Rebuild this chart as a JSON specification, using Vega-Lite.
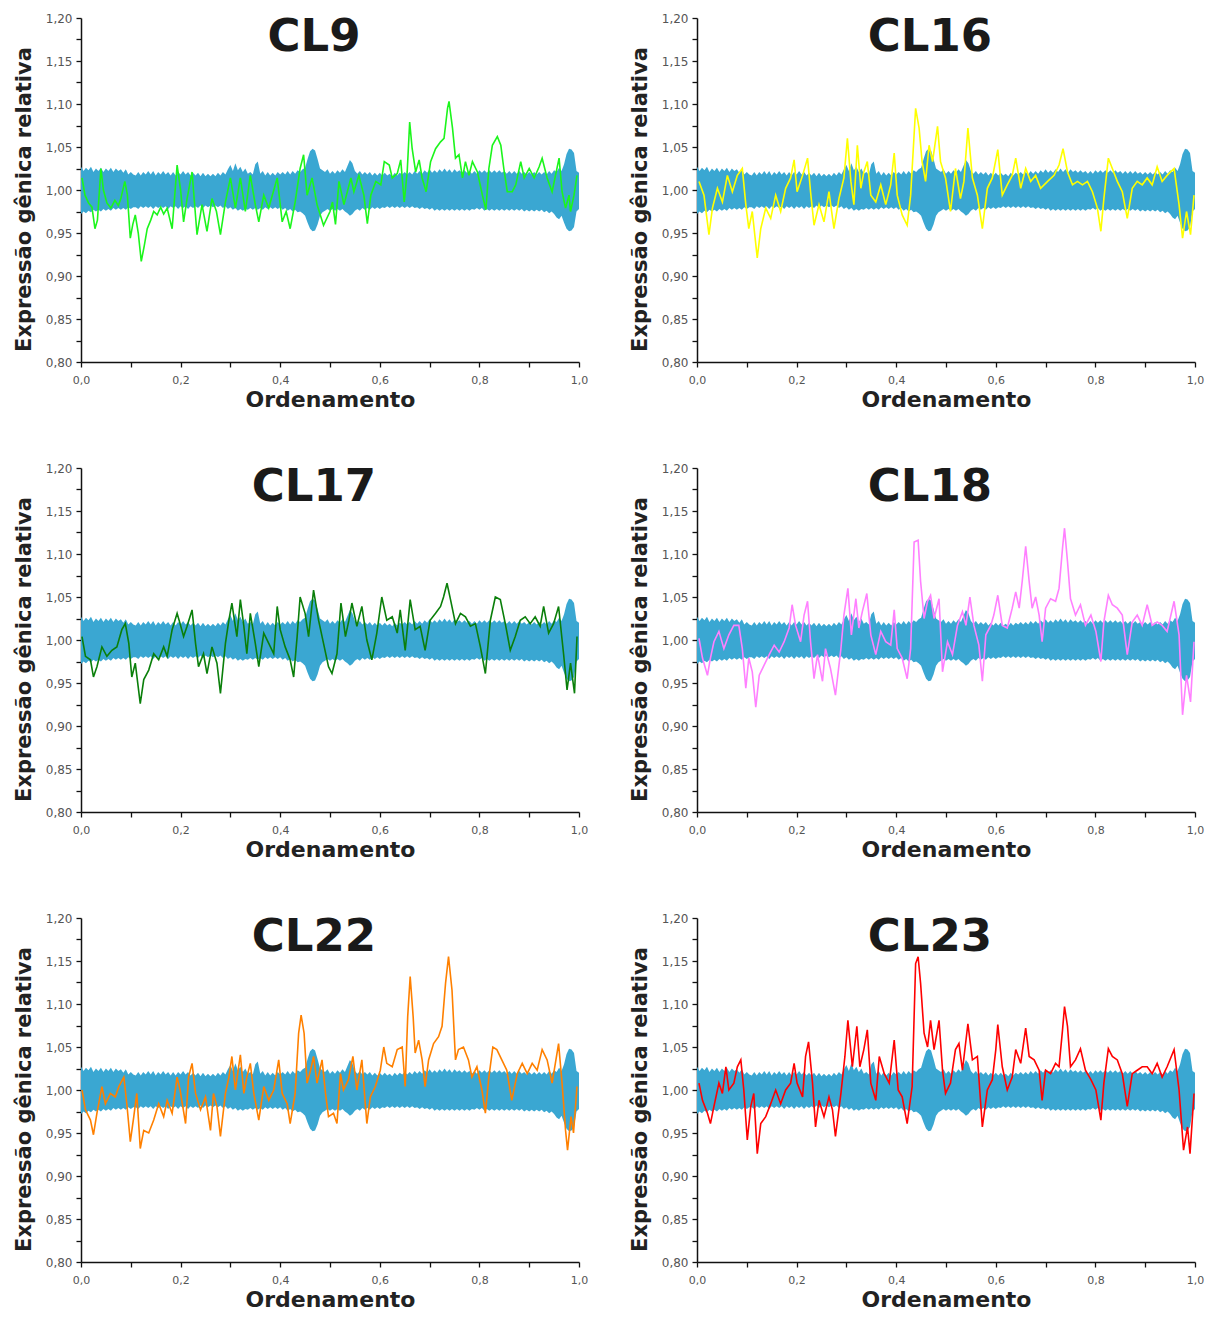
{
"$schema":"https://vega.github.io/schema/vega-lite/v6.json",
"padding":{"left":13,"top":12,"right":5,"bottom":3},
"background":"white",
"columns":2,
"bounds":"flush",
"spacing":{"row":106,"column":118},
"datasets":{
"band":[
{"t":0.000,"v":0.972,"v2":1.027},{"t":0.005,"v":0.975,"v2":1.022},{"t":0.010,"v":0.973,"v2":1.026},{"t":0.015,"v":0.976,"v2":1.023},{"t":0.020,"v":0.974,"v2":1.027},{"t":0.025,"v":0.977,"v2":1.021},{"t":0.030,"v":0.975,"v2":1.025},{"t":0.035,"v":0.977,"v2":1.022},{"t":0.040,"v":0.975,"v2":1.026},{"t":0.045,"v":0.978,"v2":1.021},{"t":0.050,"v":0.976,"v2":1.025},{"t":0.055,"v":0.978,"v2":1.022},{"t":0.060,"v":0.976,"v2":1.026},{"t":0.065,"v":0.979,"v2":1.021},{"t":0.070,"v":0.977,"v2":1.025},{"t":0.075,"v":0.979,"v2":1.022},{"t":0.080,"v":0.977,"v2":1.024},{"t":0.085,"v":0.979,"v2":1.020},{"t":0.090,"v":0.977,"v2":1.024},{"t":0.095,"v":0.980,"v2":1.018},{"t":0.100,"v":0.978,"v2":1.021},{"t":0.105,"v":0.980,"v2":1.018},{"t":0.110,"v":0.980,"v2":1.017},{"t":0.115,"v":0.978,"v2":1.021},{"t":0.120,"v":0.981,"v2":1.017},{"t":0.125,"v":0.979,"v2":1.021},{"t":0.130,"v":0.981,"v2":1.018},{"t":0.135,"v":0.979,"v2":1.022},{"t":0.140,"v":0.981,"v2":1.018},{"t":0.145,"v":0.978,"v2":1.022},{"t":0.150,"v":0.981,"v2":1.017},{"t":0.155,"v":0.979,"v2":1.021},{"t":0.160,"v":0.981,"v2":1.018},{"t":0.165,"v":0.979,"v2":1.022},{"t":0.170,"v":0.981,"v2":1.018},{"t":0.175,"v":0.978,"v2":1.021},{"t":0.180,"v":0.981,"v2":1.017},{"t":0.185,"v":0.979,"v2":1.021},{"t":0.190,"v":0.981,"v2":1.017},{"t":0.195,"v":0.978,"v2":1.021},{"t":0.200,"v":0.981,"v2":1.018},{"t":0.205,"v":0.979,"v2":1.022},{"t":0.210,"v":0.981,"v2":1.018},{"t":0.215,"v":0.978,"v2":1.021},{"t":0.220,"v":0.981,"v2":1.017},{"t":0.225,"v":0.979,"v2":1.020},{"t":0.230,"v":0.981,"v2":1.017},{"t":0.235,"v":0.979,"v2":1.020},{"t":0.240,"v":0.982,"v2":1.016},{"t":0.245,"v":0.979,"v2":1.020},{"t":0.250,"v":0.982,"v2":1.016},{"t":0.255,"v":0.980,"v2":1.019},{"t":0.260,"v":0.982,"v2":1.016},{"t":0.265,"v":0.980,"v2":1.019},{"t":0.270,"v":0.982,"v2":1.016},{"t":0.275,"v":0.980,"v2":1.020},{"t":0.280,"v":0.982,"v2":1.017},{"t":0.285,"v":0.979,"v2":1.021},{"t":0.290,"v":0.981,"v2":1.018},{"t":0.295,"v":0.978,"v2":1.024},{"t":0.300,"v":0.980,"v2":1.029},{"t":0.305,"v":0.977,"v2":1.022},{"t":0.310,"v":0.979,"v2":1.031},{"t":0.315,"v":0.976,"v2":1.023},{"t":0.320,"v":0.978,"v2":1.027},{"t":0.325,"v":0.976,"v2":1.021},{"t":0.330,"v":0.978,"v2":1.025},{"t":0.335,"v":0.977,"v2":1.019},{"t":0.340,"v":0.979,"v2":1.021},{"t":0.345,"v":0.977,"v2":1.018},{"t":0.350,"v":0.979,"v2":1.030},{"t":0.355,"v":0.977,"v2":1.033},{"t":0.360,"v":0.979,"v2":1.019},{"t":0.365,"v":0.977,"v2":1.022},{"t":0.370,"v":0.980,"v2":1.017},{"t":0.375,"v":0.978,"v2":1.021},{"t":0.380,"v":0.980,"v2":1.017},{"t":0.385,"v":0.978,"v2":1.020},{"t":0.390,"v":0.980,"v2":1.017},{"t":0.395,"v":0.978,"v2":1.021},{"t":0.400,"v":0.980,"v2":1.018},{"t":0.405,"v":0.977,"v2":1.021},{"t":0.410,"v":0.979,"v2":1.018},{"t":0.415,"v":0.976,"v2":1.022},{"t":0.420,"v":0.978,"v2":1.018},{"t":0.425,"v":0.975,"v2":1.022},{"t":0.430,"v":0.977,"v2":1.019},{"t":0.435,"v":0.974,"v2":1.023},{"t":0.440,"v":0.975,"v2":1.021},{"t":0.445,"v":0.973,"v2":1.024},{"t":0.450,"v":0.970,"v2":1.026},{"t":0.455,"v":0.962,"v2":1.036},{"t":0.460,"v":0.955,"v2":1.045},{"t":0.465,"v":0.952,"v2":1.048},{"t":0.470,"v":0.953,"v2":1.046},{"t":0.475,"v":0.960,"v2":1.036},{"t":0.480,"v":0.970,"v2":1.025},{"t":0.485,"v":0.974,"v2":1.023},{"t":0.490,"v":0.976,"v2":1.021},{"t":0.495,"v":0.978,"v2":1.024},{"t":0.500,"v":0.976,"v2":1.019},{"t":0.505,"v":0.978,"v2":1.022},{"t":0.510,"v":0.976,"v2":1.019},{"t":0.515,"v":0.978,"v2":1.023},{"t":0.520,"v":0.976,"v2":1.020},{"t":0.525,"v":0.978,"v2":1.024},{"t":0.530,"v":0.975,"v2":1.021},{"t":0.535,"v":0.973,"v2":1.028},{"t":0.540,"v":0.970,"v2":1.035},{"t":0.545,"v":0.972,"v2":1.031},{"t":0.550,"v":0.976,"v2":1.022},{"t":0.555,"v":0.978,"v2":1.019},{"t":0.560,"v":0.976,"v2":1.022},{"t":0.565,"v":0.979,"v2":1.018},{"t":0.570,"v":0.977,"v2":1.021},{"t":0.575,"v":0.979,"v2":1.018},{"t":0.580,"v":0.977,"v2":1.021},{"t":0.585,"v":0.980,"v2":1.017},{"t":0.590,"v":0.978,"v2":1.020},{"t":0.595,"v":0.980,"v2":1.017},{"t":0.600,"v":0.978,"v2":1.020},{"t":0.605,"v":0.980,"v2":1.017},{"t":0.610,"v":0.979,"v2":1.020},{"t":0.615,"v":0.981,"v2":1.017},{"t":0.620,"v":0.979,"v2":1.019},{"t":0.625,"v":0.981,"v2":1.016},{"t":0.630,"v":0.979,"v2":1.020},{"t":0.635,"v":0.981,"v2":1.017},{"t":0.640,"v":0.979,"v2":1.020},{"t":0.645,"v":0.981,"v2":1.018},{"t":0.650,"v":0.979,"v2":1.021},{"t":0.655,"v":0.981,"v2":1.018},{"t":0.660,"v":0.979,"v2":1.021},{"t":0.665,"v":0.981,"v2":1.018},{"t":0.670,"v":0.979,"v2":1.022},{"t":0.675,"v":0.980,"v2":1.019},{"t":0.680,"v":0.978,"v2":1.022},{"t":0.685,"v":0.980,"v2":1.019},{"t":0.690,"v":0.978,"v2":1.023},{"t":0.695,"v":0.979,"v2":1.020},{"t":0.700,"v":0.977,"v2":1.024},{"t":0.705,"v":0.979,"v2":1.020},{"t":0.710,"v":0.976,"v2":1.023},{"t":0.715,"v":0.978,"v2":1.020},{"t":0.720,"v":0.976,"v2":1.024},{"t":0.725,"v":0.978,"v2":1.021},{"t":0.730,"v":0.976,"v2":1.025},{"t":0.735,"v":0.978,"v2":1.021},{"t":0.740,"v":0.976,"v2":1.024},{"t":0.745,"v":0.978,"v2":1.020},{"t":0.750,"v":0.976,"v2":1.024},{"t":0.755,"v":0.978,"v2":1.021},{"t":0.760,"v":0.976,"v2":1.023},{"t":0.765,"v":0.978,"v2":1.020},{"t":0.770,"v":0.976,"v2":1.023},{"t":0.775,"v":0.978,"v2":1.020},{"t":0.780,"v":0.976,"v2":1.022},{"t":0.785,"v":0.978,"v2":1.019},{"t":0.790,"v":0.977,"v2":1.022},{"t":0.795,"v":0.979,"v2":1.019},{"t":0.800,"v":0.977,"v2":1.023},{"t":0.805,"v":0.979,"v2":1.020},{"t":0.810,"v":0.976,"v2":1.023},{"t":0.815,"v":0.978,"v2":1.020},{"t":0.820,"v":0.976,"v2":1.023},{"t":0.825,"v":0.978,"v2":1.020},{"t":0.830,"v":0.976,"v2":1.023},{"t":0.835,"v":0.978,"v2":1.020},{"t":0.840,"v":0.976,"v2":1.023},{"t":0.845,"v":0.978,"v2":1.020},{"t":0.850,"v":0.976,"v2":1.022},{"t":0.855,"v":0.978,"v2":1.019},{"t":0.860,"v":0.976,"v2":1.022},{"t":0.865,"v":0.978,"v2":1.019},{"t":0.870,"v":0.976,"v2":1.022},{"t":0.875,"v":0.978,"v2":1.019},{"t":0.880,"v":0.976,"v2":1.022},{"t":0.885,"v":0.978,"v2":1.019},{"t":0.890,"v":0.975,"v2":1.021},{"t":0.895,"v":0.977,"v2":1.018},{"t":0.900,"v":0.975,"v2":1.021},{"t":0.905,"v":0.977,"v2":1.018},{"t":0.910,"v":0.975,"v2":1.021},{"t":0.915,"v":0.977,"v2":1.018},{"t":0.920,"v":0.975,"v2":1.021},{"t":0.925,"v":0.977,"v2":1.018},{"t":0.930,"v":0.974,"v2":1.021},{"t":0.935,"v":0.976,"v2":1.018},{"t":0.940,"v":0.973,"v2":1.022},{"t":0.945,"v":0.975,"v2":1.019},{"t":0.950,"v":0.972,"v2":1.023},{"t":0.955,"v":0.968,"v2":1.021},{"t":0.960,"v":0.966,"v2":1.026},{"t":0.965,"v":0.970,"v2":1.022},{"t":0.970,"v":0.962,"v2":1.030},{"t":0.975,"v":0.955,"v2":1.042},{"t":0.980,"v":0.952,"v2":1.048},{"t":0.985,"v":0.953,"v2":1.047},{"t":0.990,"v":0.957,"v2":1.043},{"t":0.995,"v":0.975,"v2":1.022},{"t":1.000,"v":0.978,"v2":1.020}
],
"cl9":[
{"t":0.002,"v":1.014},{"t":0.008,"v":0.994},{"t":0.015,"v":0.985},{"t":0.022,"v":0.980},{"t":0.028,"v":0.955},{"t":0.033,"v":0.965},{"t":0.040,"v":1.025},{"t":0.045,"v":1.000},{"t":0.052,"v":0.985},{"t":0.060,"v":0.979},{"t":0.068,"v":0.988},{"t":0.075,"v":0.982},{"t":0.080,"v":0.990},{"t":0.088,"v":1.010},{"t":0.093,"v":0.995},{"t":0.099,"v":0.944},{"t":0.104,"v":0.960},{"t":0.109,"v":0.971},{"t":0.115,"v":0.950},{"t":0.121,"v":0.917},{"t":0.127,"v":0.935},{"t":0.133,"v":0.955},{"t":0.140,"v":0.965},{"t":0.146,"v":0.975},{"t":0.153,"v":0.971},{"t":0.160,"v":0.980},{"t":0.166,"v":0.972},{"t":0.173,"v":0.979},{"t":0.183,"v":0.955},{"t":0.193,"v":1.029},{"t":0.200,"v":1.000},{"t":0.206,"v":0.963},{"t":0.213,"v":0.990},{"t":0.223,"v":1.021},{"t":0.233,"v":0.948},{"t":0.243,"v":0.983},{"t":0.253,"v":0.952},{"t":0.263,"v":0.990},{"t":0.272,"v":0.975},{"t":0.280,"v":0.948},{"t":0.290,"v":0.986},{"t":0.300,"v":1.014},{"t":0.310,"v":0.979},{"t":0.320,"v":1.014},{"t":0.330,"v":0.975},{"t":0.340,"v":1.017},{"t":0.350,"v":0.983},{"t":0.357,"v":0.963},{"t":0.367,"v":0.994},{"t":0.377,"v":0.979},{"t":0.394,"v":1.014},{"t":0.404,"v":0.963},{"t":0.412,"v":0.975},{"t":0.420,"v":0.955},{"t":0.430,"v":0.986},{"t":0.440,"v":1.025},{"t":0.447,"v":1.041},{"t":0.454,"v":0.994},{"t":0.464,"v":1.014},{"t":0.474,"v":0.983},{"t":0.487,"v":0.959},{"t":0.500,"v":0.975},{"t":0.505,"v":0.986},{"t":0.511,"v":0.960},{"t":0.518,"v":1.010},{"t":0.528,"v":0.983},{"t":0.542,"v":1.014},{"t":0.548,"v":0.998},{"t":0.558,"v":1.017},{"t":0.568,"v":0.994},{"t":0.575,"v":0.961},{"t":0.582,"v":0.994},{"t":0.592,"v":1.010},{"t":0.602,"v":1.006},{"t":0.609,"v":1.033},{"t":0.619,"v":1.029},{"t":0.625,"v":1.014},{"t":0.635,"v":1.019},{"t":0.642,"v":1.035},{"t":0.649,"v":0.986},{"t":0.655,"v":1.021},{"t":0.660,"v":1.079},{"t":0.665,"v":1.048},{"t":0.672,"v":1.021},{"t":0.679,"v":1.035},{"t":0.685,"v":1.014},{"t":0.693,"v":0.998},{"t":0.702,"v":1.033},{"t":0.712,"v":1.048},{"t":0.722,"v":1.056},{"t":0.729,"v":1.060},{"t":0.736,"v":1.095},{"t":0.739,"v":1.103},{"t":0.746,"v":1.072},{"t":0.752,"v":1.037},{"t":0.759,"v":1.041},{"t":0.766,"v":1.014},{"t":0.772,"v":1.033},{"t":0.779,"v":1.017},{"t":0.786,"v":1.033},{"t":0.796,"v":1.021},{"t":0.806,"v":0.994},{"t":0.813,"v":0.977},{"t":0.819,"v":1.025},{"t":0.826,"v":1.052},{"t":0.836,"v":1.062},{"t":0.843,"v":1.052},{"t":0.849,"v":1.025},{"t":0.856,"v":0.998},{"t":0.866,"v":0.998},{"t":0.873,"v":1.006},{"t":0.883,"v":1.033},{"t":0.890,"v":1.014},{"t":0.900,"v":1.025},{"t":0.910,"v":1.014},{"t":0.920,"v":1.027},{"t":0.926,"v":1.037},{"t":0.936,"v":1.014},{"t":0.946,"v":0.998},{"t":0.960,"v":1.037},{"t":0.966,"v":0.998},{"t":0.973,"v":0.979},{"t":0.980,"v":0.994},{"t":0.983,"v":0.975},{"t":0.990,"v":0.994},{"t":0.996,"v":1.017}
],
"cl16":[
{"t":0.004,"v":1.010},{"t":0.014,"v":0.994},{"t":0.024,"v":0.948},{"t":0.031,"v":0.979},{"t":0.041,"v":1.002},{"t":0.051,"v":0.986},{"t":0.061,"v":1.017},{"t":0.071,"v":0.998},{"t":0.081,"v":1.017},{"t":0.091,"v":1.025},{"t":0.098,"v":0.983},{"t":0.104,"v":0.955},{"t":0.111,"v":0.975},{"t":0.121,"v":0.921},{"t":0.128,"v":0.955},{"t":0.138,"v":0.979},{"t":0.148,"v":0.967},{"t":0.158,"v":0.994},{"t":0.168,"v":0.975},{"t":0.178,"v":1.002},{"t":0.188,"v":1.014},{"t":0.195,"v":1.035},{"t":0.201,"v":0.998},{"t":0.212,"v":1.017},{"t":0.222,"v":1.037},{"t":0.228,"v":0.998},{"t":0.235,"v":0.959},{"t":0.245,"v":0.983},{"t":0.255,"v":0.963},{"t":0.265,"v":0.998},{"t":0.275,"v":0.955},{"t":0.285,"v":0.990},{"t":0.295,"v":1.014},{"t":0.302,"v":1.060},{"t":0.309,"v":1.010},{"t":0.315,"v":0.983},{"t":0.322,"v":1.052},{"t":0.329,"v":1.002},{"t":0.335,"v":1.021},{"t":0.342,"v":1.033},{"t":0.349,"v":0.994},{"t":0.359,"v":0.986},{"t":0.369,"v":1.006},{"t":0.379,"v":0.983},{"t":0.389,"v":1.006},{"t":0.396,"v":1.043},{"t":0.402,"v":0.994},{"t":0.412,"v":0.971},{"t":0.422,"v":0.959},{"t":0.429,"v":0.994},{"t":0.439,"v":1.095},{"t":0.446,"v":1.072},{"t":0.452,"v":1.033},{"t":0.459,"v":1.010},{"t":0.466,"v":1.052},{"t":0.473,"v":1.033},{"t":0.483,"v":1.074},{"t":0.489,"v":1.033},{"t":0.499,"v":1.014},{"t":0.509,"v":0.975},{"t":0.519,"v":1.025},{"t":0.529,"v":0.990},{"t":0.536,"v":1.010},{"t":0.544,"v":1.072},{"t":0.553,"v":1.014},{"t":0.563,"v":0.994},{"t":0.573,"v":0.955},{"t":0.583,"v":1.002},{"t":0.593,"v":1.014},{"t":0.604,"v":1.047},{"t":0.613,"v":0.994},{"t":0.623,"v":1.006},{"t":0.633,"v":1.017},{"t":0.640,"v":1.037},{"t":0.650,"v":1.002},{"t":0.660,"v":1.025},{"t":0.670,"v":1.010},{"t":0.680,"v":1.017},{"t":0.690,"v":1.002},{"t":0.704,"v":1.010},{"t":0.717,"v":1.017},{"t":0.727,"v":1.029},{"t":0.735,"v":1.048},{"t":0.744,"v":1.021},{"t":0.754,"v":1.006},{"t":0.764,"v":1.010},{"t":0.774,"v":1.006},{"t":0.784,"v":1.010},{"t":0.794,"v":0.998},{"t":0.804,"v":0.979},{"t":0.811,"v":0.952},{"t":0.817,"v":0.990},{"t":0.826,"v":1.037},{"t":0.834,"v":1.025},{"t":0.844,"v":1.010},{"t":0.854,"v":0.998},{"t":0.864,"v":0.967},{"t":0.874,"v":1.002},{"t":0.884,"v":1.010},{"t":0.894,"v":1.006},{"t":0.904,"v":1.014},{"t":0.914,"v":1.006},{"t":0.924,"v":1.027},{"t":0.934,"v":1.010},{"t":0.944,"v":1.017},{"t":0.958,"v":1.025},{"t":0.968,"v":0.983},{"t":0.975,"v":0.944},{"t":0.983,"v":0.975},{"t":0.991,"v":0.948},{"t":0.998,"v":0.994}
],
"cl17":[
{"t":0.002,"v":1.004},{"t":0.009,"v":0.981},{"t":0.019,"v":0.977},{"t":0.025,"v":0.957},{"t":0.032,"v":0.969},{"t":0.042,"v":0.992},{"t":0.052,"v":0.981},{"t":0.062,"v":0.988},{"t":0.072,"v":0.992},{"t":0.082,"v":1.012},{"t":0.089,"v":1.019},{"t":0.096,"v":0.996},{"t":0.102,"v":0.957},{"t":0.109,"v":0.973},{"t":0.119,"v":0.926},{"t":0.126,"v":0.954},{"t":0.136,"v":0.965},{"t":0.146,"v":0.984},{"t":0.156,"v":0.977},{"t":0.166,"v":0.992},{"t":0.173,"v":0.981},{"t":0.183,"v":1.012},{"t":0.193,"v":1.031},{"t":0.199,"v":1.019},{"t":0.206,"v":1.004},{"t":0.213,"v":1.016},{"t":0.223,"v":1.035},{"t":0.230,"v":0.996},{"t":0.236,"v":0.969},{"t":0.246,"v":0.984},{"t":0.253,"v":0.961},{"t":0.263,"v":0.992},{"t":0.273,"v":0.973},{"t":0.280,"v":0.938},{"t":0.290,"v":0.996},{"t":0.297,"v":1.023},{"t":0.303,"v":1.043},{"t":0.313,"v":1.004},{"t":0.320,"v":1.047},{"t":0.327,"v":1.016},{"t":0.333,"v":0.984},{"t":0.340,"v":1.031},{"t":0.350,"v":0.996},{"t":0.357,"v":0.969},{"t":0.367,"v":1.008},{"t":0.377,"v":0.996},{"t":0.387,"v":0.984},{"t":0.394,"v":1.039},{"t":0.400,"v":1.012},{"t":0.410,"v":0.992},{"t":0.420,"v":0.977},{"t":0.427,"v":0.957},{"t":0.434,"v":1.004},{"t":0.440,"v":1.050},{"t":0.450,"v":1.031},{"t":0.457,"v":1.004},{"t":0.467,"v":1.058},{"t":0.477,"v":1.023},{"t":0.487,"v":0.996},{"t":0.497,"v":0.969},{"t":0.504,"v":0.961},{"t":0.514,"v":0.984},{"t":0.522,"v":1.043},{"t":0.531,"v":1.004},{"t":0.538,"v":1.023},{"t":0.544,"v":1.043},{"t":0.554,"v":1.016},{"t":0.564,"v":1.039},{"t":0.574,"v":1.000},{"t":0.584,"v":0.977},{"t":0.594,"v":1.008},{"t":0.604,"v":1.050},{"t":0.614,"v":1.023},{"t":0.625,"v":1.027},{"t":0.635,"v":1.008},{"t":0.641,"v":1.035},{"t":0.651,"v":0.988},{"t":0.661,"v":1.047},{"t":0.671,"v":1.012},{"t":0.681,"v":1.016},{"t":0.691,"v":0.988},{"t":0.701,"v":1.023},{"t":0.712,"v":1.031},{"t":0.722,"v":1.039},{"t":0.728,"v":1.050},{"t":0.735,"v":1.066},{"t":0.742,"v":1.047},{"t":0.752,"v":1.019},{"t":0.762,"v":1.031},{"t":0.772,"v":1.027},{"t":0.782,"v":1.016},{"t":0.792,"v":1.019},{"t":0.802,"v":0.992},{"t":0.812,"v":0.961},{"t":0.822,"v":1.023},{"t":0.832,"v":1.050},{"t":0.842,"v":1.047},{"t":0.852,"v":1.019},{"t":0.862,"v":0.988},{"t":0.872,"v":1.004},{"t":0.882,"v":1.023},{"t":0.892,"v":1.027},{"t":0.902,"v":1.019},{"t":0.912,"v":1.027},{"t":0.922,"v":1.016},{"t":0.929,"v":1.039},{"t":0.939,"v":1.008},{"t":0.949,"v":1.019},{"t":0.959,"v":1.039},{"t":0.969,"v":0.984},{"t":0.976,"v":0.942},{"t":0.983,"v":0.973},{"t":0.991,"v":0.938},{"t":0.996,"v":1.004}
],
"cl18":[
{"t":0.004,"v":1.002},{"t":0.011,"v":0.979},{"t":0.021,"v":0.959},{"t":0.027,"v":0.979},{"t":0.034,"v":0.998},{"t":0.044,"v":1.010},{"t":0.054,"v":0.990},{"t":0.064,"v":1.006},{"t":0.074,"v":1.017},{"t":0.084,"v":1.017},{"t":0.091,"v":0.990},{"t":0.098,"v":0.944},{"t":0.104,"v":0.979},{"t":0.111,"v":0.963},{"t":0.118,"v":0.922},{"t":0.125,"v":0.959},{"t":0.135,"v":0.971},{"t":0.145,"v":0.983},{"t":0.155,"v":0.994},{"t":0.165,"v":0.986},{"t":0.175,"v":0.998},{"t":0.185,"v":1.014},{"t":0.191,"v":1.041},{"t":0.198,"v":1.017},{"t":0.208,"v":0.998},{"t":0.215,"v":1.029},{"t":0.222,"v":1.045},{"t":0.228,"v":0.998},{"t":0.235,"v":0.955},{"t":0.242,"v":0.983},{"t":0.252,"v":0.952},{"t":0.258,"v":0.990},{"t":0.268,"v":0.967},{"t":0.278,"v":0.936},{"t":0.289,"v":0.990},{"t":0.295,"v":1.029},{"t":0.303,"v":1.060},{"t":0.310,"v":1.006},{"t":0.319,"v":1.048},{"t":0.325,"v":1.014},{"t":0.332,"v":1.033},{"t":0.341,"v":1.054},{"t":0.349,"v":1.006},{"t":0.359,"v":0.983},{"t":0.369,"v":1.010},{"t":0.379,"v":0.998},{"t":0.389,"v":0.994},{"t":0.396,"v":1.035},{"t":0.402,"v":0.990},{"t":0.412,"v":0.979},{"t":0.422,"v":0.955},{"t":0.429,"v":0.990},{"t":0.436,"v":1.114},{"t":0.444,"v":1.116},{"t":0.449,"v":1.068},{"t":0.456,"v":1.025},{"t":0.463,"v":1.045},{"t":0.469,"v":1.052},{"t":0.476,"v":1.025},{"t":0.486,"v":1.048},{"t":0.493,"v":0.963},{"t":0.503,"v":0.998},{"t":0.513,"v":0.983},{"t":0.523,"v":1.017},{"t":0.533,"v":1.033},{"t":0.540,"v":1.017},{"t":0.548,"v":1.050},{"t":0.556,"v":1.017},{"t":0.566,"v":0.994},{"t":0.573,"v":0.952},{"t":0.580,"v":1.006},{"t":0.590,"v":1.017},{"t":0.596,"v":1.029},{"t":0.604,"v":1.052},{"t":0.613,"v":1.017},{"t":0.623,"v":1.014},{"t":0.633,"v":1.037},{"t":0.640,"v":1.056},{"t":0.647,"v":1.037},{"t":0.653,"v":1.068},{"t":0.660,"v":1.109},{"t":0.667,"v":1.068},{"t":0.673,"v":1.037},{"t":0.680,"v":1.050},{"t":0.687,"v":1.029},{"t":0.693,"v":0.998},{"t":0.700,"v":1.037},{"t":0.710,"v":1.048},{"t":0.720,"v":1.045},{"t":0.727,"v":1.060},{"t":0.734,"v":1.107},{"t":0.738,"v":1.130},{"t":0.744,"v":1.091},{"t":0.750,"v":1.048},{"t":0.760,"v":1.029},{"t":0.770,"v":1.041},{"t":0.780,"v":1.017},{"t":0.791,"v":1.029},{"t":0.801,"v":1.010},{"t":0.811,"v":0.975},{"t":0.817,"v":1.021},{"t":0.826,"v":1.052},{"t":0.834,"v":1.041},{"t":0.844,"v":1.037},{"t":0.854,"v":1.029},{"t":0.864,"v":0.983},{"t":0.874,"v":1.021},{"t":0.884,"v":1.029},{"t":0.894,"v":1.017},{"t":0.904,"v":1.041},{"t":0.914,"v":1.017},{"t":0.924,"v":1.021},{"t":0.934,"v":1.017},{"t":0.944,"v":1.010},{"t":0.958,"v":1.045},{"t":0.968,"v":1.006},{"t":0.975,"v":0.913},{"t":0.983,"v":0.959},{"t":0.991,"v":0.928},{"t":0.998,"v":0.998}
],
"cl22":[
{"t":0.002,"v":1.000},{"t":0.009,"v":0.977},{"t":0.019,"v":0.965},{"t":0.025,"v":0.948},{"t":0.032,"v":0.973},{"t":0.042,"v":1.004},{"t":0.049,"v":0.984},{"t":0.059,"v":0.996},{"t":0.069,"v":0.992},{"t":0.076,"v":1.004},{"t":0.086,"v":1.015},{"t":0.092,"v":0.984},{"t":0.099,"v":0.940},{"t":0.106,"v":0.969},{"t":0.112,"v":0.996},{"t":0.119,"v":0.932},{"t":0.126,"v":0.953},{"t":0.136,"v":0.950},{"t":0.146,"v":0.965},{"t":0.156,"v":0.984},{"t":0.166,"v":0.969},{"t":0.173,"v":0.988},{"t":0.183,"v":0.973},{"t":0.193,"v":1.015},{"t":0.199,"v":1.000},{"t":0.210,"v":0.961},{"t":0.216,"v":1.015},{"t":0.223,"v":1.031},{"t":0.230,"v":0.996},{"t":0.240,"v":0.977},{"t":0.250,"v":0.992},{"t":0.260,"v":0.953},{"t":0.266,"v":0.996},{"t":0.273,"v":0.981},{"t":0.280,"v":0.946},{"t":0.290,"v":0.996},{"t":0.297,"v":1.015},{"t":0.303,"v":1.039},{"t":0.310,"v":1.000},{"t":0.320,"v":1.041},{"t":0.327,"v":0.996},{"t":0.333,"v":1.015},{"t":0.340,"v":1.031},{"t":0.347,"v":0.996},{"t":0.357,"v":0.965},{"t":0.367,"v":1.004},{"t":0.377,"v":0.988},{"t":0.387,"v":1.000},{"t":0.397,"v":1.035},{"t":0.404,"v":0.996},{"t":0.414,"v":0.984},{"t":0.420,"v":0.961},{"t":0.430,"v":0.996},{"t":0.437,"v":1.066},{"t":0.442,"v":1.087},{"t":0.448,"v":1.066},{"t":0.454,"v":1.008},{"t":0.461,"v":1.023},{"t":0.467,"v":1.039},{"t":0.474,"v":1.008},{"t":0.484,"v":1.035},{"t":0.491,"v":0.996},{"t":0.497,"v":0.969},{"t":0.507,"v":0.973},{"t":0.514,"v":0.961},{"t":0.521,"v":1.019},{"t":0.527,"v":1.000},{"t":0.537,"v":1.012},{"t":0.546,"v":1.039},{"t":0.554,"v":1.000},{"t":0.564,"v":1.035},{"t":0.574,"v":0.961},{"t":0.581,"v":0.992},{"t":0.591,"v":1.004},{"t":0.601,"v":1.023},{"t":0.608,"v":1.050},{"t":0.614,"v":1.031},{"t":0.625,"v":1.027},{"t":0.635,"v":1.047},{"t":0.645,"v":1.050},{"t":0.651,"v":1.004},{"t":0.656,"v":1.085},{"t":0.661,"v":1.132},{"t":0.667,"v":1.085},{"t":0.671,"v":1.043},{"t":0.678,"v":1.058},{"t":0.685,"v":1.035},{"t":0.691,"v":1.004},{"t":0.698,"v":1.035},{"t":0.708,"v":1.054},{"t":0.718,"v":1.062},{"t":0.725,"v":1.074},{"t":0.732,"v":1.124},{"t":0.738,"v":1.155},{"t":0.745,"v":1.116},{"t":0.752,"v":1.035},{"t":0.758,"v":1.047},{"t":0.768,"v":1.050},{"t":0.778,"v":1.035},{"t":0.785,"v":1.015},{"t":0.795,"v":1.027},{"t":0.805,"v":1.000},{"t":0.812,"v":0.973},{"t":0.819,"v":1.015},{"t":0.827,"v":1.050},{"t":0.835,"v":1.047},{"t":0.845,"v":1.035},{"t":0.855,"v":1.023},{"t":0.865,"v":0.988},{"t":0.876,"v":1.019},{"t":0.886,"v":1.031},{"t":0.896,"v":1.019},{"t":0.906,"v":1.031},{"t":0.916,"v":1.023},{"t":0.926,"v":1.047},{"t":0.936,"v":1.035},{"t":0.946,"v":1.008},{"t":0.959,"v":1.054},{"t":0.966,"v":1.008},{"t":0.973,"v":0.953},{"t":0.977,"v":0.930},{"t":0.984,"v":0.969},{"t":0.989,"v":0.950},{"t":0.996,"v":1.004}
],
"cl23":[
{"t":0.004,"v":1.008},{"t":0.011,"v":0.988},{"t":0.021,"v":0.973},{"t":0.027,"v":0.961},{"t":0.034,"v":0.981},{"t":0.044,"v":1.008},{"t":0.051,"v":0.996},{"t":0.058,"v":1.027},{"t":0.064,"v":1.000},{"t":0.074,"v":1.008},{"t":0.081,"v":1.027},{"t":0.088,"v":1.035},{"t":0.094,"v":1.000},{"t":0.101,"v":0.942},{"t":0.108,"v":0.981},{"t":0.114,"v":0.996},{"t":0.121,"v":0.926},{"t":0.128,"v":0.961},{"t":0.138,"v":0.969},{"t":0.148,"v":0.984},{"t":0.158,"v":1.000},{"t":0.168,"v":0.984},{"t":0.178,"v":1.000},{"t":0.188,"v":1.008},{"t":0.195,"v":1.031},{"t":0.201,"v":1.008},{"t":0.212,"v":0.992},{"t":0.218,"v":1.039},{"t":0.224,"v":1.056},{"t":0.232,"v":1.008},{"t":0.238,"v":0.957},{"t":0.245,"v":0.988},{"t":0.255,"v":0.969},{"t":0.265,"v":0.992},{"t":0.272,"v":0.977},{"t":0.278,"v":0.946},{"t":0.289,"v":0.996},{"t":0.297,"v":1.039},{"t":0.303,"v":1.081},{"t":0.312,"v":1.027},{"t":0.321,"v":1.074},{"t":0.327,"v":1.027},{"t":0.335,"v":1.047},{"t":0.342,"v":1.070},{"t":0.349,"v":1.008},{"t":0.359,"v":0.988},{"t":0.366,"v":1.039},{"t":0.376,"v":1.019},{"t":0.386,"v":1.008},{"t":0.396,"v":1.058},{"t":0.404,"v":1.000},{"t":0.412,"v":0.992},{"t":0.422,"v":0.961},{"t":0.432,"v":1.004},{"t":0.439,"v":1.147},{"t":0.444,"v":1.155},{"t":0.449,"v":1.124},{"t":0.456,"v":1.066},{"t":0.463,"v":1.050},{"t":0.469,"v":1.081},{"t":0.476,"v":1.047},{"t":0.486,"v":1.081},{"t":0.493,"v":1.023},{"t":0.499,"v":0.996},{"t":0.509,"v":1.008},{"t":0.519,"v":1.047},{"t":0.526,"v":1.054},{"t":0.533,"v":1.023},{"t":0.544,"v":1.077},{"t":0.553,"v":1.035},{"t":0.563,"v":1.039},{"t":0.573,"v":0.957},{"t":0.583,"v":1.000},{"t":0.593,"v":1.012},{"t":0.600,"v":1.047},{"t":0.604,"v":1.076},{"t":0.613,"v":1.027},{"t":0.623,"v":1.000},{"t":0.633,"v":1.015},{"t":0.640,"v":1.047},{"t":0.650,"v":1.031},{"t":0.660,"v":1.072},{"t":0.667,"v":1.039},{"t":0.677,"v":1.035},{"t":0.687,"v":1.023},{"t":0.693,"v":0.988},{"t":0.700,"v":1.023},{"t":0.710,"v":1.019},{"t":0.720,"v":1.031},{"t":0.727,"v":1.027},{"t":0.734,"v":1.070},{"t":0.738,"v":1.097},{"t":0.744,"v":1.074},{"t":0.750,"v":1.027},{"t":0.760,"v":1.035},{"t":0.770,"v":1.048},{"t":0.780,"v":1.023},{"t":0.791,"v":1.012},{"t":0.801,"v":1.000},{"t":0.811,"v":0.965},{"t":0.817,"v":1.008},{"t":0.826,"v":1.048},{"t":0.834,"v":1.039},{"t":0.844,"v":1.035},{"t":0.854,"v":1.019},{"t":0.864,"v":0.981},{"t":0.874,"v":1.019},{"t":0.884,"v":1.023},{"t":0.894,"v":1.027},{"t":0.904,"v":1.027},{"t":0.914,"v":1.019},{"t":0.924,"v":1.031},{"t":0.934,"v":1.015},{"t":0.944,"v":1.027},{"t":0.958,"v":1.047},{"t":0.968,"v":1.000},{"t":0.977,"v":0.930},{"t":0.985,"v":0.957},{"t":0.990,"v":0.926},{"t":0.998,"v":0.996}
]
},
"concat":[
{"width":498,"height":344,"title":{"text":"CL9"},
 "encoding":{
  "x":{"field":"t","type":"quantitative","scale":{"domain":[0,1],"nice":false,"zero":false},"axis":{"title":"Ordenamento","values":[0,0.1,0.2,0.3,0.4,0.5,0.6,0.7,0.8,0.9,1],"labelExpr":"abs(datum.value*5-round(datum.value*5))<0.01 ? replace(format(datum.value,'.1f'),'.',',') : ''"}},
  "y":{"field":"v","type":"quantitative","scale":{"domain":[0.8,1.2],"nice":false,"zero":false},"axis":{"title":"Expressão gênica relativa","titleY":181,"values":[0.8,0.825,0.85,0.875,0.9,0.925,0.95,0.975,1,1.025,1.05,1.075,1.1,1.125,1.15,1.175,1.2],"labelExpr":"abs(datum.value*20-round(datum.value*20))<0.01 ? replace(format(datum.value,'.2f'),'.',',') : ''"}}},
 "layer":[
  {"data":{"name":"band"},"mark":{"type":"area","color":"#3aa7d2","opacity":1},"encoding":{"y2":{"field":"v2"}}},
  {"data":{"name":"cl9"},"mark":{"type":"line","color":"#1cf51c","strokeWidth":1.6}}
 ]},
{"width":498,"height":344,"title":{"text":"CL16"},
 "encoding":{
  "x":{"field":"t","type":"quantitative","scale":{"domain":[0,1],"nice":false,"zero":false},"axis":{"title":"Ordenamento","values":[0,0.1,0.2,0.3,0.4,0.5,0.6,0.7,0.8,0.9,1],"labelExpr":"abs(datum.value*5-round(datum.value*5))<0.01 ? replace(format(datum.value,'.1f'),'.',',') : ''"}},
  "y":{"field":"v","type":"quantitative","scale":{"domain":[0.8,1.2],"nice":false,"zero":false},"axis":{"title":"Expressão gênica relativa","titleY":181,"values":[0.8,0.825,0.85,0.875,0.9,0.925,0.95,0.975,1,1.025,1.05,1.075,1.1,1.125,1.15,1.175,1.2],"labelExpr":"abs(datum.value*20-round(datum.value*20))<0.01 ? replace(format(datum.value,'.2f'),'.',',') : ''"}}},
 "layer":[
  {"data":{"name":"band"},"mark":{"type":"area","color":"#3aa7d2","opacity":1},"encoding":{"y2":{"field":"v2"}}},
  {"data":{"name":"cl16"},"mark":{"type":"line","color":"#ffff00","strokeWidth":1.6}}
 ]},
{"width":498,"height":344,"title":{"text":"CL17"},
 "encoding":{
  "x":{"field":"t","type":"quantitative","scale":{"domain":[0,1],"nice":false,"zero":false},"axis":{"title":"Ordenamento","values":[0,0.1,0.2,0.3,0.4,0.5,0.6,0.7,0.8,0.9,1],"labelExpr":"abs(datum.value*5-round(datum.value*5))<0.01 ? replace(format(datum.value,'.1f'),'.',',') : ''"}},
  "y":{"field":"v","type":"quantitative","scale":{"domain":[0.8,1.2],"nice":false,"zero":false},"axis":{"title":"Expressão gênica relativa","titleY":181,"values":[0.8,0.825,0.85,0.875,0.9,0.925,0.95,0.975,1,1.025,1.05,1.075,1.1,1.125,1.15,1.175,1.2],"labelExpr":"abs(datum.value*20-round(datum.value*20))<0.01 ? replace(format(datum.value,'.2f'),'.',',') : ''"}}},
 "layer":[
  {"data":{"name":"band"},"mark":{"type":"area","color":"#3aa7d2","opacity":1},"encoding":{"y2":{"field":"v2"}}},
  {"data":{"name":"cl17"},"mark":{"type":"line","color":"#0a7f0a","strokeWidth":1.6}}
 ]},
{"width":498,"height":344,"title":{"text":"CL18"},
 "encoding":{
  "x":{"field":"t","type":"quantitative","scale":{"domain":[0,1],"nice":false,"zero":false},"axis":{"title":"Ordenamento","values":[0,0.1,0.2,0.3,0.4,0.5,0.6,0.7,0.8,0.9,1],"labelExpr":"abs(datum.value*5-round(datum.value*5))<0.01 ? replace(format(datum.value,'.1f'),'.',',') : ''"}},
  "y":{"field":"v","type":"quantitative","scale":{"domain":[0.8,1.2],"nice":false,"zero":false},"axis":{"title":"Expressão gênica relativa","titleY":181,"values":[0.8,0.825,0.85,0.875,0.9,0.925,0.95,0.975,1,1.025,1.05,1.075,1.1,1.125,1.15,1.175,1.2],"labelExpr":"abs(datum.value*20-round(datum.value*20))<0.01 ? replace(format(datum.value,'.2f'),'.',',') : ''"}}},
 "layer":[
  {"data":{"name":"band"},"mark":{"type":"area","color":"#3aa7d2","opacity":1},"encoding":{"y2":{"field":"v2"}}},
  {"data":{"name":"cl18"},"mark":{"type":"line","color":"#ff80ff","strokeWidth":1.6}}
 ]},
{"width":498,"height":344,"title":{"text":"CL22"},
 "encoding":{
  "x":{"field":"t","type":"quantitative","scale":{"domain":[0,1],"nice":false,"zero":false},"axis":{"title":"Ordenamento","values":[0,0.1,0.2,0.3,0.4,0.5,0.6,0.7,0.8,0.9,1],"labelExpr":"abs(datum.value*5-round(datum.value*5))<0.01 ? replace(format(datum.value,'.1f'),'.',',') : ''"}},
  "y":{"field":"v","type":"quantitative","scale":{"domain":[0.8,1.2],"nice":false,"zero":false},"axis":{"title":"Expressão gênica relativa","titleY":181,"values":[0.8,0.825,0.85,0.875,0.9,0.925,0.95,0.975,1,1.025,1.05,1.075,1.1,1.125,1.15,1.175,1.2],"labelExpr":"abs(datum.value*20-round(datum.value*20))<0.01 ? replace(format(datum.value,'.2f'),'.',',') : ''"}}},
 "layer":[
  {"data":{"name":"band"},"mark":{"type":"area","color":"#3aa7d2","opacity":1},"encoding":{"y2":{"field":"v2"}}},
  {"data":{"name":"cl22"},"mark":{"type":"line","color":"#ff8000","strokeWidth":1.6}}
 ]},
{"width":498,"height":344,"title":{"text":"CL23"},
 "encoding":{
  "x":{"field":"t","type":"quantitative","scale":{"domain":[0,1],"nice":false,"zero":false},"axis":{"title":"Ordenamento","values":[0,0.1,0.2,0.3,0.4,0.5,0.6,0.7,0.8,0.9,1],"labelExpr":"abs(datum.value*5-round(datum.value*5))<0.01 ? replace(format(datum.value,'.1f'),'.',',') : ''"}},
  "y":{"field":"v","type":"quantitative","scale":{"domain":[0.8,1.2],"nice":false,"zero":false},"axis":{"title":"Expressão gênica relativa","titleY":181,"values":[0.8,0.825,0.85,0.875,0.9,0.925,0.95,0.975,1,1.025,1.05,1.075,1.1,1.125,1.15,1.175,1.2],"labelExpr":"abs(datum.value*20-round(datum.value*20))<0.01 ? replace(format(datum.value,'.2f'),'.',',') : ''"}}},
 "layer":[
  {"data":{"name":"band"},"mark":{"type":"area","color":"#3aa7d2","opacity":1},"encoding":{"y2":{"field":"v2"}}},
  {"data":{"name":"cl23"},"mark":{"type":"line","color":"#ff0000","strokeWidth":1.6}}
 ]}
],
"config":{
 "view":{"stroke":null},
 "title":{"font":"DejaVu Sans","fontSize":45,"fontWeight":"bold","color":"#1a1a1a","offset":-48,"dx":-16,"baseline":"alphabetic","anchor":"middle"},
 "axis":{"grid":false,"domainColor":"#111111","domainWidth":1.5,"tickColor":"#111111","tickWidth":1.3,"tickSize":5,"labelFont":"DejaVu Sans","labelColor":"#555555","labelFlush":false,"labelOverlap":false,"titleFont":"DejaVu Sans","titleFontWeight":"bold","titleColor":"#222222"},
 "axisX":{"titlePadding":4,"labelPadding":7,"labelFontSize":11,"titleFontSize":22},
 "axisY":{"titlePadding":11,"labelPadding":4,"labelFontSize":12,"titleFontSize":21}
}
}
